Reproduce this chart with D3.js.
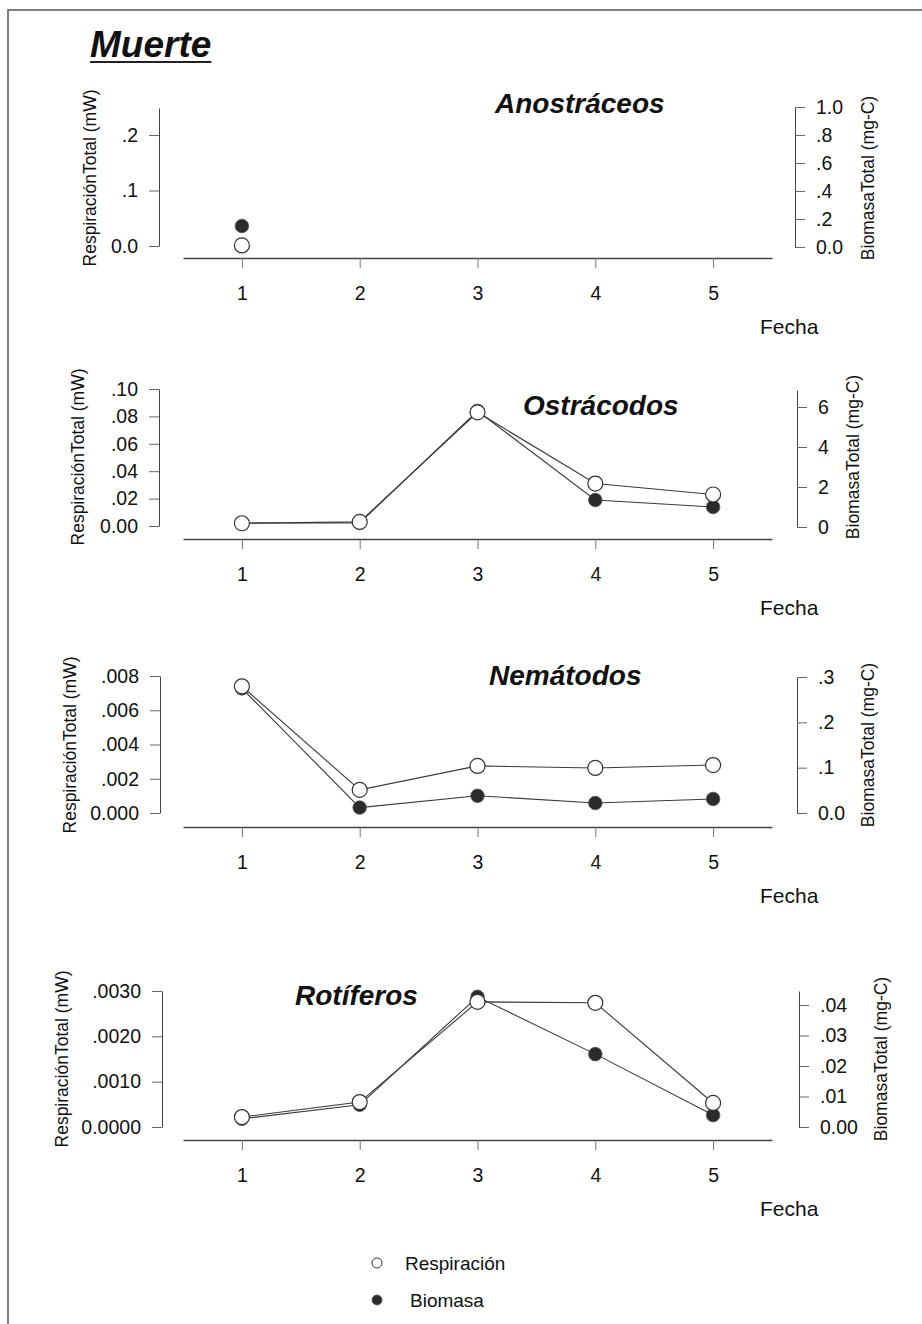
<!DOCTYPE html>
<html><head><meta charset="utf-8">
<script src="https://cdn.jsdelivr.net/npm/d3@7"></script>
<style>
body{margin:0;background:#fff}
svg{display:block}
text{font-family:Arial,"Liberation Sans",Helvetica,sans-serif;fill:#111}
</style>
</head><body>
<svg id="c" width="922" height="1324"></svg>
<script>
// ---- data ----
const fechas = [1, 2, 3, 4, 5];
const grupos = ["Anostráceos", "Ostrácodos", "Nemátodos", "Rotíferos"];

const respAnostraceos = [0.001, null, null, null, null];
const bioAnostraceos  = [0.15, null, null, null, null];
const respOstracodos  = [0.002, 0.003, 0.083, 0.031, 0.023];
const bioOstracodos   = [0.2, 0.2, 5.8, 1.35, 1.0];
const respNematodos   = [0.0074, 0.00135, 0.00275, 0.00263, 0.0028];
const bioNematodos    = [0.275, 0.012, 0.038, 0.022, 0.031];
const respRotiferos   = [0.00022, 0.00055, 0.00276, 0.00274, 0.00053];
const bioRotiferos    = [0.0027, 0.0073, 0.0427, 0.0239, 0.0039];

const leftMax  = [0.2487, 0.10, 0.008, 0.003];
const rightMax = [1.0, 6.85, 0.3, 0.0446];

const leftTicks = [[0, 0.1, 0.2], [0, 0.02, 0.04, 0.06, 0.08, 0.10], [0, 0.002, 0.004, 0.006, 0.008], [0, 0.001, 0.002, 0.003]];
const leftLabels = [["0.0", ".1", ".2"], ["0.00", ".02", ".04", ".06", ".08", ".10"], ["0.000", ".002", ".004", ".006", ".008"], ["0.0000", ".0010", ".0020", ".0030"]];
const rightTicks = [[0, 0.2, 0.4, 0.6, 0.8, 1.0], [0, 2, 4, 6], [0, 0.1, 0.2, 0.3], [0, 0.01, 0.02, 0.03, 0.04]];
const rightLabels = [["0.0", ".2", ".4", ".6", ".8", "1.0"], ["0", "2", "4", "6"], ["0.0", ".1", ".2", ".3"], ["0.00", ".01", ".02", ".03", ".04"]];

const respSeries = [respAnostraceos, respOstracodos, respNematodos, respRotiferos];
const bioSeries  = [bioAnostraceos, bioOstracodos, bioNematodos, bioRotiferos];

const tituloGeneral = "Muerte";
const ejeIzq = "RespiraciónTotal (mW)";
const ejeDer = "BiomasaTotal (mg-C)";
const ejeX = "Fecha";
const leyenda = ["Respiración", "Biomasa"];

// ---- layout ----
const layout = [
  {lTop:108, lBot:246, rTop:107, rBot:247, axisY:258, lx:159, rx:795, ltx:90, rtx:868, aty:178, tx:495, ty:113},
  {lTop:389, lBot:526, rTop:390, rBot:527, axisY:539, lx:159, rx:797, ltx:78, rtx:853, aty:457, tx:523, ty:415},
  {lTop:676, lBot:813, rTop:677, rBot:813, axisY:827, lx:160, rx:797, ltx:70, rtx:868, aty:745, tx:489, ty:685},
  {lTop:991, lBot:1127, rTop:991, rBot:1127, axisY:1140, lx:162, rx:799, ltx:62, rtx:881, aty:1059, tx:295, ty:1005}
];

const svg = d3.select("#c");
const ink = "#222", lineCol = "#3a3a3a", axisCol = "#444";

// frame
svg.append("path").attr("d", "M8,1324V10H922").attr("fill", "none").attr("stroke", "#555").attr("stroke-width", 1.5);

// main title
const mt = svg.append("text").attr("x", 90).attr("y", 57)
  .style("font-size", "37px").style("font-weight", "bold").style("font-style", "italic").text(tituloGeneral);
const mtw = mt.node().getComputedTextLength();
svg.append("line").attr("x1", 90).attr("x2", 90 + mtw).attr("y1", 62).attr("y2", 62).attr("stroke", ink).attr("stroke-width", 2.2);

const x = d3.scaleLinear().domain([0.5, 5.5]).range([183, 772]);

grupos.forEach((g, i) => {
  const L = layout[i];
  const yl = d3.scaleLinear().domain([0, leftMax[i]]).range([L.lBot, L.lTop]);
  const yr = d3.scaleLinear().domain([0, rightMax[i]]).range([L.rBot, L.rTop]);
  const p = svg.append("g");

  // x axis
  const xa = p.append("g").attr("transform", `translate(0,${L.axisY})`)
    .call(d3.axisBottom(x).tickValues(fechas).tickFormat(d3.format("d")).tickSize(10).tickSizeOuter(0).tickPadding(18));
  xa.select(".domain").attr("stroke", axisCol).attr("stroke-width", 1.3);
  xa.selectAll(".tick line").attr("stroke", "#777");
  xa.selectAll(".tick text").style("font-size", "19.5px").attr("fill", ink);

  // left axis
  const la = p.append("g").attr("transform", `translate(${L.lx},0)`)
    .call(d3.axisLeft(yl).tickValues(leftTicks[i]).tickFormat((d, k) => leftLabels[i][k]).tickSize(10).tickSizeOuter(0).tickPadding(11));
  la.select(".domain").attr("stroke", axisCol);
  la.selectAll(".tick line").attr("stroke", "#666");
  la.selectAll(".tick text").style("font-size", "19.5px").attr("fill", ink);

  // right axis
  const ra = p.append("g").attr("transform", `translate(${L.rx},0)`)
    .call(d3.axisRight(yr).tickValues(rightTicks[i]).tickFormat((d, k) => rightLabels[i][k]).tickSize(10).tickSizeOuter(0).tickPadding(11));
  ra.select(".domain").attr("stroke", axisCol);
  ra.selectAll(".tick line").attr("stroke", "#666");
  ra.selectAll(".tick text").style("font-size", "19.5px").attr("fill", ink);

  // axis titles
  p.append("text").attr("transform", `translate(${L.ltx},${L.aty}) rotate(-90)`)
    .attr("text-anchor", "middle").attr("dy", "0.35em").style("font-size", "17.5px").text(ejeIzq);
  p.append("text").attr("transform", `translate(${L.rtx},${L.aty}) rotate(-90)`)
    .attr("text-anchor", "middle").attr("dy", "0.35em").style("font-size", "17.5px").text(ejeDer);
  p.append("text").attr("x", 760).attr("y", L.axisY + 76).style("font-size", "21px").text(ejeX);

  // panel title
  p.append("text").attr("x", L.tx).attr("y", L.ty).style("font-size", "28px")
    .style("font-weight", "bold").style("font-style", "italic").text(g);

  const bio = fechas.map((f, k) => ({f, v: bioSeries[i][k]})).filter(d => d.v != null);
  const resp = fechas.map((f, k) => ({f, v: respSeries[i][k]})).filter(d => d.v != null);

  // biomasa
  p.append("path").datum(bio).attr("fill", "none").attr("stroke", lineCol).attr("stroke-width", 1.1)
    .attr("d", d3.line().x(d => x(d.f)).y(d => yr(d.v)));
  p.selectAll(".bio").data(bio).join("circle").attr("class", "bio")
    .attr("cx", d => x(d.f)).attr("cy", d => yr(d.v)).attr("r", 6.8)
    .attr("fill", "#2b2b2b").attr("stroke", "#555").attr("stroke-width", 0.8);

  // respiración
  p.append("path").datum(resp).attr("fill", "none").attr("stroke", lineCol).attr("stroke-width", 1.1)
    .attr("d", d3.line().x(d => x(d.f)).y(d => yl(d.v)));
  p.selectAll(".resp").data(resp).join("circle").attr("class", "resp")
    .attr("cx", d => x(d.f)).attr("cy", d => yl(d.v)).attr("r", 7.5)
    .attr("fill", "#fff").attr("stroke", "#333").attr("stroke-width", 1.2);
});

// legend
const lg = svg.append("g");
lg.append("circle").attr("cx", 377).attr("cy", 1263).attr("r", 5).attr("fill", "#fff").attr("stroke", "#333").attr("stroke-width", 1);
lg.append("text").attr("x", 405).attr("y", 1263).attr("dy", "0.35em").style("font-size", "19px").text(leyenda[0]);
lg.append("circle").attr("cx", 377).attr("cy", 1300).attr("r", 5).attr("fill", "#2b2b2b").attr("stroke", "#555").attr("stroke-width", 0.8);
lg.append("text").attr("x", 410).attr("y", 1300).attr("dy", "0.35em").style("font-size", "19px").text(leyenda[1]);
</script>
</body></html>
